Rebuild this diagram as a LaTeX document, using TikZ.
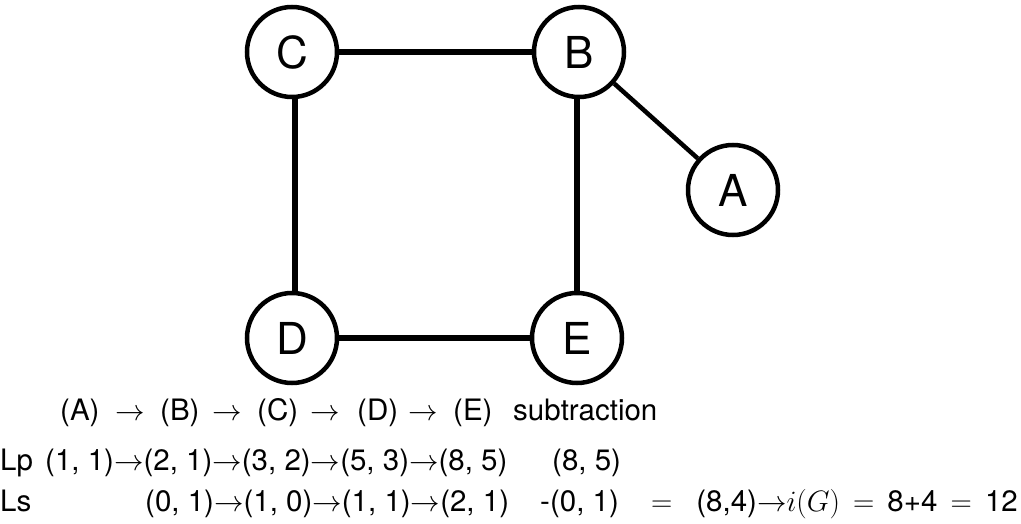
\RequirePackage{fix-cm}
\documentclass[tikz,border=0pt]{standalone}
\usepackage{fontspec}
\setmainfont{TeX Gyre Heros}
\begin{document}
\begin{tikzpicture}[x=1pt,y=-1pt,
  vert/.style={circle, draw, line width=4.5pt, minimum size=90pt, inner sep=0pt, font=\fontsize{44}{50}\selectfont},
  edge/.style={line width=6pt},
  thinedge/.style={line width=4.5pt},
  txt/.style={anchor=base west, inner sep=0pt, font=\fontsize{29.5}{34}\selectfont}]
\useasboundingbox (0,0) rectangle (1021,524);
\node[vert] (C) at (292,52) {C};
\node[vert] (B) at (579,52) {B};
\node[vert] (A) at (733,190) {A};
\node[vert] (D) at (292,338) {D};
\node[vert] (E) at (577,338) {E};
\draw[edge] (C) -- (B);
\draw[edge] ([xshift=3pt]C.south) -- ([xshift=3pt]D.north);
\draw[edge] (E.north |- B.south) -- (E.north);
\draw[edge] (D) -- (E);
\draw[thinedge] (B) -- (A);
% line 1
\node[txt] (l1a) at (60,420) {(A)};
\node[txt] (l1b) at (115,420) {$\rightarrow$};
\node[txt] (l1c) at (160,420) {(B)};
\node[txt] (l1d) at (212,420) {$\rightarrow$};
\node[txt] (l1e) at (257,420) {(C)};
\node[txt] (l1f) at (310,420) {$\rightarrow$};
\node[txt] (l1g) at (357,420) {(D)};
\node[txt] (l1h) at (408,420) {$\rightarrow$};
\node[txt] (l1i) at (453,420) {(E)};
\node[txt] (l1j) at (513,420) {subtraction};
% line 2
\node[txt] (l2a) at (0,470) {Lp};
\node[txt] (l2b) at (45,470) {(1, 1)$\rightarrow$(2, 1)$\rightarrow$(3, 2)$\rightarrow$(5, 3)$\rightarrow$(8, 5)};
\node[txt] (l2c) at (552,470) {(8, 5)};
% line 3
\node[txt] (l3a) at (0,511) {Ls};
\node[txt] (l3b) at (145,511) {(0, 1)$\rightarrow$(1, 0)$\rightarrow$(1, 1)$\rightarrow$(2, 1)};
\node[txt] (l3c) at (540,511) {-(0, 1)};
\node[txt] (l3d) at (651,511) {$=$};
\node[txt, anchor=base east] (l3e) at (1018,511) {(8,4)${\rightarrow}$$i(G) \,=\,$ 8+4 $\,=\,$ 12};
\end{tikzpicture}
\end{document}
